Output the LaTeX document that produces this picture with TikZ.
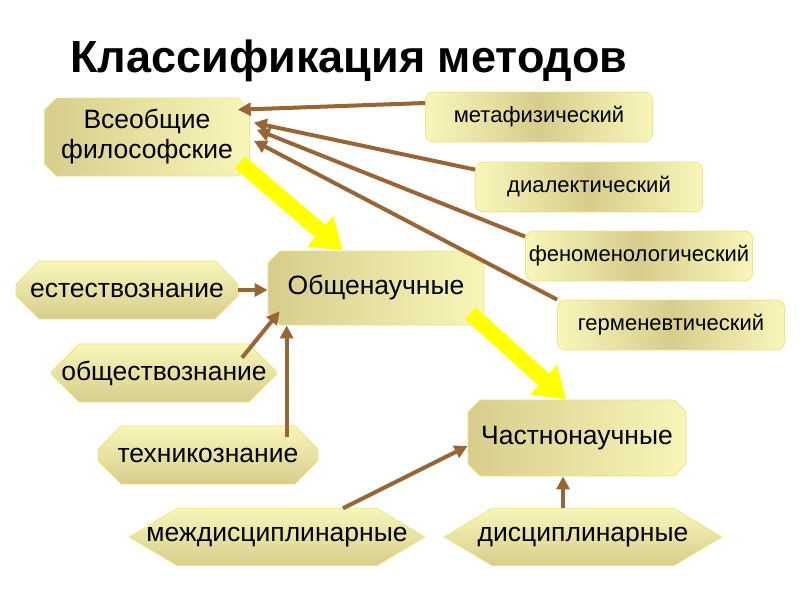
\documentclass[tikz,border=0pt]{standalone}
\usepackage{fontspec}
\setmainfont{Liberation Sans}
\usetikzlibrary{arrows.meta,shapes.misc,backgrounds}

\definecolor{plate light}{RGB}{249,246,186}
\definecolor{plate dark}{RGB}{214,205,140}
\definecolor{plate edge}{RGB}{238,228,128}
\definecolor{arrow brown}{RGB}{152,102,52}
\definecolor{big yellow}{RGB}{255,255,0}

\begin{document}
\begin{tikzpicture}[
        x=1pt,y=-1pt,
        every node/.style={font=\fontsize{26.5}{30}\selectfont,text=black,inner sep=2pt},
        plaque box/.style={chamfered rectangle,chamfered rectangle xsep=6pt,chamfered rectangle ysep=6pt,
            draw=plate edge,line width=0.8pt,left color=plate dark,right color=plate light,align=center},
        side box/.style={chamfered rectangle,chamfered rectangle xsep=14pt,chamfered rectangle ysep=14pt,
            draw=plate edge,line width=0.8pt,top color=plate light,bottom color=plate dark,
            inner xsep=-4pt,minimum width=222pt,minimum height=58pt},
        method box/.style={rounded corners=8pt,draw=plate edge,line width=0.8pt,
            left color=plate light,right color=plate light,middle color=plate dark,
            minimum width=227pt,minimum height=50pt,font=\fontsize{22}{26}\selectfont},
        hex box/.style={inner sep=0pt,minimum height=57pt},
        hex fill/.style={draw=plate edge,line width=0.8pt,top color=plate light,bottom color=plate dark},
        brown arrow/.style={arrow brown,line width=4pt,-{Triangle[length=13pt,width=13pt]}},
        yellow arrow/.style={big yellow,line width=16pt,-{Triangle[length=30pt,width=38pt]}}
    ]
        \useasboundingbox (0,0) rectangle (800,600);

        \node[font=\fontsize{45}{52}\selectfont\bfseries] (title) at (349,61) {Классификация методов};

        % top level and the methods pointing to it
        \node[plaque box,minimum width=205pt,minimum height=78pt] (vseob) at (147,137) {Всеобщие\\философские};
        \node[method box] (meta) at (539,117) {метафизический};
        \node[method box] (dial) at (589,187) {диалектический};
        \node[method box] (phen) at (639,256) {феноменологический};
        \node[method box] (herm) at (671,325) {герменевтический};

        % middle level
        \node[plaque box,minimum width=216pt,minimum height=74pt] (obsh) at (376,288) {Общенаучные};
        \node[side box] (est) at (127,290) {естествознание};
        \node[side box,minimum width=224pt] (obshch) at (164,373) {обществознание};
        \node[side box,minimum width=220pt] (tekh) at (208,455) {техникознание};

        % bottom level
        \node[plaque box,minimum width=218pt,minimum height=76pt] (chast) at (577,438) {Частнонаучные};
        \node[hex box,minimum width=295pt] (mezh) at (277,537) {междисциплинарные};
        \node[hex box,minimum width=277pt] (disc) at (583,537) {дисциплинарные};

        \begin{scope}[on background layer]
            \foreach \h in {mezh,disc} {
                \path[hex fill] (\h.west) -- ([xshift=48pt]\h.north west) -- ([xshift=-48pt]\h.north east)
                    -- (\h.east) -- ([xshift=-48pt]\h.south east) -- ([xshift=48pt]\h.south west) -- cycle;
            }
        \end{scope}

        \draw[yellow arrow] ([shift={(-4,-8)}]vseob.south east) -- ([xshift=-33pt]obsh.north);
        \draw[yellow arrow] ([shift={(-8,-6)}]obsh.south east) -- ([xshift=-11pt]chast.north);

        \draw[brown arrow] ([shift={(0,-14)}]meta.west) -- ([shift={(-6,6)}]vseob.north east);
        \draw[brown arrow] ([shift={(0,8)}]dial.north west) -- ([shift={(10,19)}]vseob.north east);
        \draw[brown arrow] ([shift={(0,6)}]phen.north west) -- ([shift={(13,26)}]vseob.north east);
        \draw[brown arrow] (herm.north west) -- ([shift={(10,37)}]vseob.north east);

        \draw[brown arrow] (est.east) -- (est.east -| obsh.west);
        \draw[brown arrow] ([xshift=-21pt]obshch.north east) -- ([shift={(6,-8)}]obsh.south west);
        \coordinate (tekh top) at ([xshift=-20pt]tekh.north east);
        \draw[brown arrow] (tekh top) -- (tekh top |- obsh.south);

        \draw[brown arrow] ([xshift=66pt]mezh.north) -- ([yshift=-8pt]chast.west);
        \coordinate (disc top) at ([xshift=-20pt]disc.north);
        \draw[brown arrow] (disc top) -- (disc top |- chast.south);
    \end{tikzpicture}
\end{document}
